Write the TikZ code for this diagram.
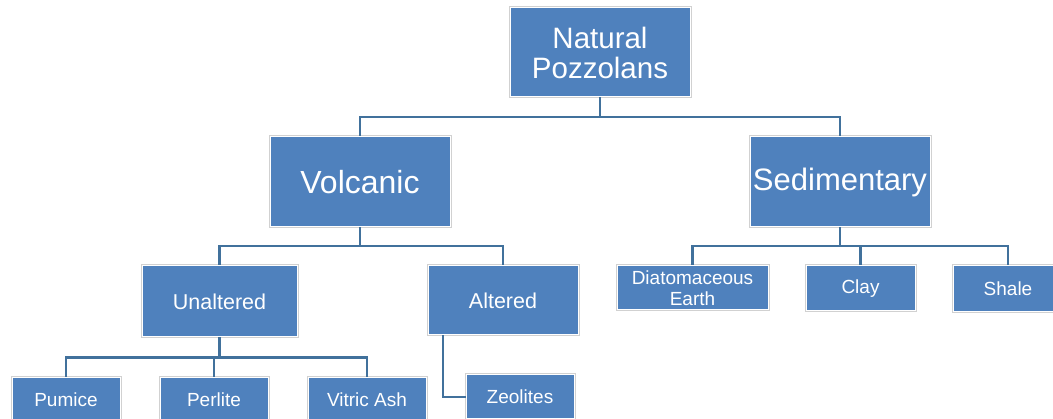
\documentclass[tikz,border=0pt]{standalone}
\usepackage{fontspec}
\setmainfont{Liberation Sans}
\definecolor{boxblue}{HTML}{4F81BD}
\definecolor{lineblue}{HTML}{41719C}
\begin{document}
\begin{tikzpicture}[x=1pt,y=-1pt,
  box/.style={fill=boxblue, draw=white, line width=1pt, text=white, inner sep=0pt,
    align=center, preaction={draw=black!18, line width=3pt}},
  conn/.style={draw=lineblue, line width=2.2pt}]
\useasboundingbox (0,0) rectangle (1053,419);
\clip (0,0) rectangle (1053,419);
% nodes
\node[box, minimum width=180pt, minimum height=89pt, font=\fontsize{29.5}{30}\selectfont] (np) at (600,52.5) {Natural\\Pozzolans};
\node[box, minimum width=180pt, minimum height=90pt, font=\fontsize{32}{34}\selectfont] (vol) at (360,182) {Volcanic};
\node[box, minimum width=180pt, minimum height=90pt, font=\fontsize{31}{33}\selectfont] (sed) at (840,182) {Sedimentary};
\node[box, minimum width=155pt, minimum height=71pt, font=\fontsize{21.5}{24}\selectfont] (una) at (219.5,301.5) {Unaltered};
\node[box, minimum width=150pt, minimum height=69pt, font=\fontsize{21.5}{24}\selectfont] (alt) at (503,300.5) {Altered};
\node[box, minimum width=108pt, minimum height=44pt, font=\fontsize{19}{21}\selectfont] (pum) at (66,400) {Pumice};
\node[box, minimum width=108pt, minimum height=44pt, font=\fontsize{19}{21}\selectfont] (per) at (214,400) {Perlite};
\node[box, minimum width=118pt, minimum height=44pt, font=\fontsize{19}{21}\selectfont] (vit) at (367,400) {Vitric Ash};
\node[box, minimum width=108pt, minimum height=44pt, font=\fontsize{19}{21}\selectfont] (zeo) at (520,397) {Zeolites};
\node[box, minimum width=151pt, minimum height=44pt, font=\fontsize{19}{21.5}\selectfont] (dia) at (692.5,288) {Diatomaceous\\Earth};
\node[box, minimum width=109pt, minimum height=45pt, font=\fontsize{19}{21}\selectfont] (cla) at (860.5,288.5) {Clay};
\node[box, minimum width=110pt, minimum height=46pt, font=\fontsize{19}{21}\selectfont] (sha) at (1008,288.5) {Shale};
% junctions
\coordinate (j1) at (600,117);
\coordinate (j2) at (360,246);
\coordinate (j3) at (219.5,357.5);
\coordinate (j4) at (840,246);
% connectors
\draw[conn] (np.south) -- (j1) -| (vol.north);
\draw[conn] (j1) -| (sed.north);
\draw[conn] (vol.south) -- (j2) -| (una.north);
\draw[conn] (j2) -| (alt.north);
\draw[conn] (una.south) -- (j3) -| (pum.north);
\draw[conn] (j3) -| (per.north);
\draw[conn] (j3) -| (vit.north);
\draw[conn] ([xshift=-60pt]alt.south) |- (zeo.west);
\draw[conn] (sed.south) -- (j4) -| (dia.north);
\draw[conn] (j4) -| (cla.north);
\draw[conn] (j4) -| (sha.north);
\end{tikzpicture}
\end{document}
